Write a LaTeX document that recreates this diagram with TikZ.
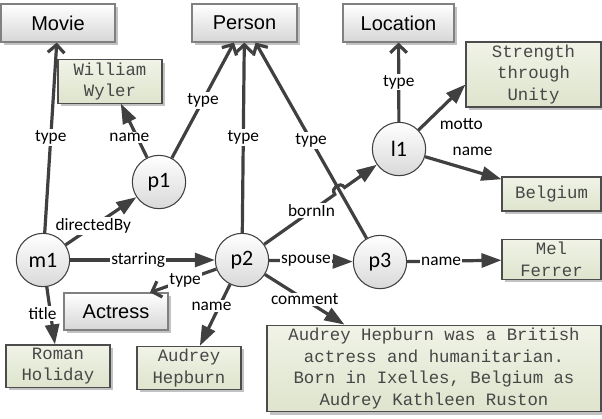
\documentclass[tikz,border=0pt]{standalone}
\usepackage{fontspec}
\setmainfont{Liberation Sans}
\setmonofont{Liberation Mono}
\newfontfamily\edgefont{Carlito}
\usetikzlibrary{arrows.meta,positioning,calc,shadows}

\definecolor{linegray}{RGB}{64,64,64}
\definecolor{boxgray}{RGB}{128,128,128}
\definecolor{classbot}{RGB}{214,214,214}
\definecolor{littop}{RGB}{240,243,230}
\definecolor{litbot}{RGB}{222,228,205}

\begin{document}
\begin{tikzpicture}[x=0.75pt,y=-0.75pt,line width=2.4pt,
  class node/.style={draw=boxgray,line width=0.8pt,top color=white,bottom color=classbot,
    drop shadow={shadow xshift=2pt,shadow yshift=-2pt,fill=black!40,opacity=.6},
    font=\fontsize{15}{18}\selectfont,minimum height=28.5pt,inner sep=2pt},
  lit node/.style={draw=black!70,line width=0.8pt,top color=littop,bottom color=litbot,
    drop shadow={shadow xshift=2pt,shadow yshift=-2pt,fill=black!40,opacity=.6},
    font=\ttfamily\fontsize{13}{16.3}\selectfont,text=black!72,align=center,inner sep=2pt},
  res node/.style={circle,draw=linegray,line width=0.8pt,top color=white,bottom color=black!15,
    minimum size=40pt,inner sep=0pt,font=\edgefont\fontsize{16.5}{18}\selectfont},
  rel/.style={draw=linegray,-{Triangle[length=15pt,width=10.5pt]}},
  isa/.style={draw=linegray,-{Straight Barb[length=6pt,width=12.5pt]}},
  lbl/.style={fill=white,inner sep=1pt,text=black,font=\edgefont\fontsize{13}{15}\selectfont},
  side lbl/.style={inner sep=1pt,text=black,font=\edgefont\fontsize{13}{15}\selectfont}]

  \useasboundingbox (0,0) rectangle (602,418);

  \node[class node,minimum width=85.5pt] (movie) at (58,23) {Movie};
  \node[class node,minimum width=78.75pt] (person) at (244.5,23) {Person};
  \node[class node,minimum width=83.25pt] (location) at (398.5,23) {Location};
  \node[class node,minimum width=78pt,minimum height=27.75pt] (actress) at (116,311.5) {Actress};

  \node[lit node,minimum width=78pt,minimum height=27.75pt] (wyler) at (110,81.5) {William\\Wyler};
  \node[lit node,minimum width=101.25pt,minimum height=48.75pt] (strength) at (533.5,74.5) {Strength\\through\\Unity};
  \node[lit node,minimum width=74.25pt,minimum height=25.5pt] (belgium) at (551.5,194) {Belgium};
  \node[lit node,minimum width=74.25pt,minimum height=27.75pt] (mel) at (551.5,259.5) {Mel\\Ferrer};
  \node[lit node,minimum width=250.5pt,minimum height=62.25pt] (comment) at (434,368.5)
    {Audrey Hepburn was a British\\actress and humanitarian.\\Born in Ixelles, Belgium as\\Audrey Kathleen Ruston};
  \node[lit node,minimum width=78pt,minimum height=28.5pt] (roman) at (58,366) {Roman\\Holiday};
  \node[lit node,minimum width=78pt,minimum height=28.5pt] (audrey) at (189,368) {Audrey\\Hepburn};

  \node[res node] (m1) at (43,260) {m1};
  \node[res node] (p1) at (159,182) {p1};
  \node[res node] (p2) at (242,260) {p2};
  \node[res node] (p3) at (380,262) {p3};
  \node[res node] (l1) at (399,149) {l1};

  \draw[isa] (m1) to node[lbl,pos=.5] {type} (movie);
  \draw[isa] (p1) to node[lbl,pos=.5] {type} (person);
  \draw[rel] (p1) to node[lbl,pos=.37,xshift=-6pt] {name} (wyler);
  \draw[rel] (m1) to node[lbl,pos=.39] {directedBy} (p1);
  \draw[isa] (p2) to node[lbl,pos=.5] {type} (person);
  \draw[isa] (p3) to node[lbl,pos=.5] {type} (person);
  \draw[isa] (l1) to node[lbl,pos=.5] {type} (location);
  \draw[rel] (l1) to node[side lbl,pos=.25,below right=-2pt and 5pt] {motto} ([yshift=-7.5pt]strength.west);
  \draw[rel] (l1) to node[side lbl,pos=.5,above=7pt,xshift=7pt] {name} (belgium);

  % bornIn hops over the p3 type edge
  \coordinate (cross) at (intersection of p2--l1 and p3--person);
  \coordinate (hopA) at ($(cross)!4.5pt!(p2)$);
  \coordinate (hopB) at ($(cross)!4.5pt!(l1)$);
  \draw[rel] (p2) -- node[lbl,pos=.67] {bornIn} (hopA)
    .. controls ($(hopA)!6pt!-90:(p2)$) and ($(hopB)!6pt!90:(l1)$) .. (hopB) -- (l1);

  \draw[rel] (m1) to node[lbl,pos=.47] {starring} (p2);
  \draw[rel] (p2) to node[lbl,pos=.44] {spouse} (p3);
  \draw[rel] (p3) to node[lbl,pos=.36] {name} (mel);
  \draw[isa] (p2) to node[lbl,pos=.47] {type} ([xshift=25.5pt]actress.north);
  \draw[rel] (p2) to node[lbl,pos=.35,xshift=-6pt] {name} (audrey);
  \draw[rel] (p2) to node[lbl,pos=.5] {comment} ([xshift=58.5pt]comment.north west);
  \draw[rel] (m1) to node[lbl,pos=.46,xshift=-6pt] {title} (roman);
\end{tikzpicture}
\end{document}
